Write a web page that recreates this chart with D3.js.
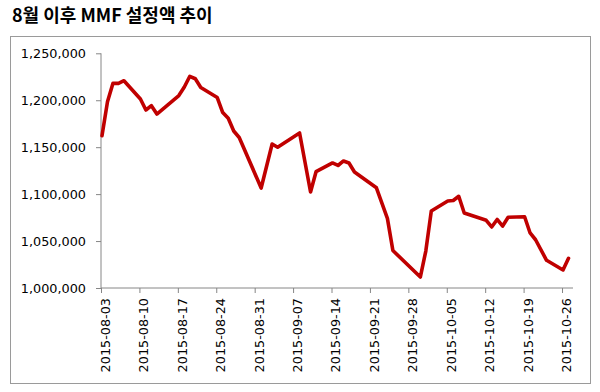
<!DOCTYPE html>
<html><head><meta charset="utf-8">
<script src="https://cdn.jsdelivr.net/npm/d3@7"></script>
<style>body{margin:0;background:#fff}svg{display:block}</style>
</head><body>
<svg id="c" width="600" height="392"></svg>
<script>
const dates = ["2015-08-03","2015-08-04","2015-08-05","2015-08-06","2015-08-07","2015-08-10","2015-08-11","2015-08-12","2015-08-13",
"2015-08-17","2015-08-18","2015-08-19","2015-08-20","2015-08-21","2015-08-24","2015-08-25","2015-08-26","2015-08-27","2015-08-28",
"2015-09-01","2015-09-03","2015-09-04","2015-09-08","2015-09-10","2015-09-11","2015-09-14","2015-09-15","2015-09-16","2015-09-17","2015-09-18",
"2015-09-22","2015-09-24","2015-09-25","2015-09-30","2015-10-01","2015-10-02","2015-10-05","2015-10-06","2015-10-07","2015-10-08",
"2015-10-12","2015-10-13","2015-10-14","2015-10-15","2015-10-16","2015-10-19","2015-10-20","2015-10-21","2015-10-23","2015-10-26","2015-10-27"];
const values = [1162200,1198400,1218000,1218000,1220800,1201300,1189600,1194200,1185300,
1205000,1214100,1225500,1222900,1213600,1202900,1186900,1180800,1167200,1160300,
1106500,1153400,1149900,1165100,1102300,1123900,1133200,1130500,1135300,1133200,1123600,
1106700,1074200,1039900,1011700,1039400,1082000,1092700,1093200,1097700,1079900,
1072100,1065000,1073000,1066000,1075300,1075900,1058600,1051400,1029500,1019200,1031600];
const xTickLabels = ["2015-08-03","2015-08-10","2015-08-17","2015-08-24","2015-08-31","2015-09-07","2015-09-14","2015-09-21","2015-09-28","2015-10-05","2015-10-12","2015-10-19","2015-10-26"];
const yTicks = [1000000,1050000,1100000,1150000,1200000,1250000];
const title = "8월 이후 MMF 설정액 추이";

const parse = d3.timeParse("%Y-%m-%d");
const svg = d3.select("#c");
const axisColor = "#868686";

svg.append("rect").attr("x",10.5).attr("y",36.5).attr("width",580).attr("height",347)
  .attr("fill","#fff").attr("stroke","#9a9a9a").attr("stroke-width",1);

svg.append("text").attr("x",12).attr("y",22).text(title)
  .attr("font-family","'Noto Sans CJK KR','Noto Sans',sans-serif").attr("font-weight","bold")
  .attr("font-size",18).attr("fill","#000");

const x = d3.scaleTime().domain([parse("2015-08-03"), parse("2015-10-28")]).range([101, 573]);
const y = d3.scaleLinear().domain([1000000, 1250000]).range([288, 53.3]);

const font = "'DejaVu Sans',Verdana,sans-serif";

// Y axis
const ya = svg.append("g").attr("transform","translate(101,0)")
  .call(d3.axisLeft(y).tickValues(yTicks).tickSize(5).tickPadding(10).tickFormat(d3.format(",")));
ya.select(".domain").attr("stroke",axisColor).attr("d","M0,53.3V288");
ya.selectAll(".tick line").attr("stroke",axisColor);
ya.selectAll("text").attr("font-family",font).attr("font-size",12.8).attr("fill","#000");

// X axis
const xa = svg.append("g").attr("transform","translate(0,288)")
  .call(d3.axisBottom(x).tickValues(xTickLabels.map(parse)).tickSize(5).tickFormat(d3.timeFormat("%Y-%m-%d")));
xa.select(".domain").attr("stroke",axisColor).attr("d","M101,0H573");
xa.selectAll(".tick line").attr("stroke",axisColor);
xa.selectAll("text").attr("font-family",font).attr("font-size",12.8).attr("fill","#000")
  .attr("text-anchor","end").attr("transform","rotate(-90)").attr("x",-10).attr("y",4).attr("dy","0.35em");

// Line
const data = dates.map((d,i)=>({d:parse(d), v:values[i]}));
svg.append("path").datum(data)
  .attr("d", d3.line().x(p=>x(p.d)+1).y(p=>y(p.v)))
  .attr("fill","none").attr("stroke","#c00000").attr("stroke-width",3.6)
  .attr("stroke-linejoin","round").attr("stroke-linecap","round");
</script>
</body></html>
